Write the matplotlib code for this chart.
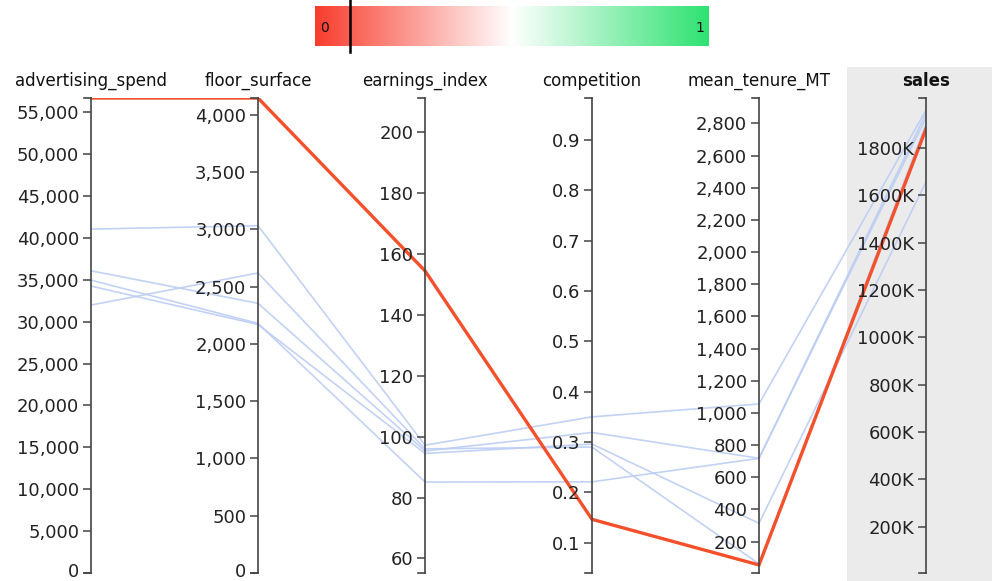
import numpy as np
import matplotlib
matplotlib.use("Agg")
import matplotlib.pyplot as plt
import matplotlib.transforms as mtransforms
from matplotlib.colors import LinearSegmentedColormap

# dimensions and their ranges
dims = ["advertising_spend", "floor_surface", "earnings_index", "competition", "mean_tenure_MT", "sales"]
ranges = [(0, 56700), (0, 4148), (55.2, 211.3), (0.04, 0.983), (5, 2958), (5000, 2010000)]
ticks = [
    np.arange(0, 55001, 5000),
    np.arange(0, 4001, 500),
    np.arange(60, 201, 20),
    np.round(np.arange(0.1, 0.91, 0.1), 1),
    np.arange(200, 2801, 200),
    np.arange(200000, 1800001, 200000),
]

# rows (one line per store)
highlight_row = [56700, 4148, 154.5, 0.1465, 55, 1880000]
other_rows = [
    [41050, 3033, 97.2, 0.350, 1056, 1959000],
    [31980, 2620, 96.0, 0.290, 62, 1900000],
    [36070, 2355, 95.3, 0.319, 718, 1926000],
    [34960, 2180, 85.1, 0.221, 718, 1945000],
    [34250, 2170, 94.5, 0.296, 314, 1656000],
]
cbar_marker = 0.089

def fmt(i, v):
    if i == 3:
        return f"{v:.1f}"
    if i == 5:
        return f"{v/1000:.0f}K"
    return f"{v:,.0f}"

def norm(row):
    return [(v - lo) / (hi - lo) for v, (lo, hi) in zip(row, ranges)]

W, H = 992, 581
fig = plt.figure(figsize=(W / 100, H / 100), dpi=100)

# grey band behind the sales axis
band = fig.add_axes([847 / W, 0, (W - 847) / W, (581 - 67) / H])
band.set_facecolor("#ebebeb")
band.set_xticks([]); band.set_yticks([])
for s in band.spines.values():
    s.set_visible(False)

host = fig.add_axes([91 / W, 8 / H, 835 / W, 475 / H])
host.patch.set_alpha(0)
host.set_xlim(0, len(dims) - 1)
host.set_ylim(0, 1)
host.set_xticks([]); host.set_yticks([])
for s in host.spines.values():
    s.set_visible(False)

xs = np.arange(len(dims))
for r in other_rows:
    host.plot(xs, norm(r), color="#bccdf4", lw=1.2, alpha=0.9, zorder=2)
host.plot(xs, norm(highlight_row), color="#f4502c", lw=2.4, zorder=3, solid_joinstyle="miter")

axcol = "#444444"
cap = 7 / 167
nudge = mtransforms.ScaledTranslation(0, 3 / 100, fig.dpi_scale_trans)
for i, name in enumerate(dims):
    ax = host.twinx()
    ax.patch.set_alpha(0)
    ax.set_ylim(*ranges[i])
    for s in ["top", "bottom", "right"]:
        ax.spines[s].set_visible(False)
    ax.spines["left"].set_position(("axes", i / (len(dims) - 1)))
    ax.spines["left"].set_color(axcol)
    ax.spines["left"].set_linewidth(1.2)
    ax.yaxis.set_ticks_position("left")
    ax.yaxis.set_label_position("left")
    ax.set_yticks(ticks[i])
    ax.set_yticklabels([fmt(i, v) for v in ticks[i]])
    ax.tick_params(axis="y", direction="out", length=6, width=1.1, color=axcol,
                   labelsize=13, labelcolor="#222222", pad=2.5)
    # keep a zero label at the very bottom inside the picture
    if ticks[i][0] == 0:
        lab = ax.get_yticklabels()[0]
        lab.set_transform(lab.get_transform() + nudge)
    # caps at ends of axis
    for yy in (0, 1):
        host.plot([i - cap, i], [yy, yy], color=axcol, lw=1.2, clip_on=False, zorder=4)
    host.text(i, 1.0 + 17 / 475, name, ha="center", va="center", fontsize=12,
              color="#111111", fontweight="bold" if name == "sales" else "normal",
              transform=host.transData, clip_on=False)

# colour bar on top
cmap = LinearSegmentedColormap.from_list("rg", ["#f83d2e", "#ffffff", "#2ee272"])
cb = fig.add_axes([315 / W, (581 - 46) / H, 394 / W, 40 / H])
cb.imshow(np.linspace(0, 1, 256)[None, :], cmap=cmap, aspect="auto", extent=(0, 1, 0, 1))
cb.set_xticks([]); cb.set_yticks([])
for s in cb.spines.values():
    s.set_visible(False)
cb.text(0.012, 0.45, "0", ha="left", va="center", fontsize=10, color="#111111")
cb.text(0.988, 0.45, "1", ha="right", va="center", fontsize=10, color="#111111")
cb.axvline(cbar_marker, ymin=-0.15, ymax=1.15, color="black", lw=1.8, clip_on=False)

fig.savefig("out.png", dpi=100)
